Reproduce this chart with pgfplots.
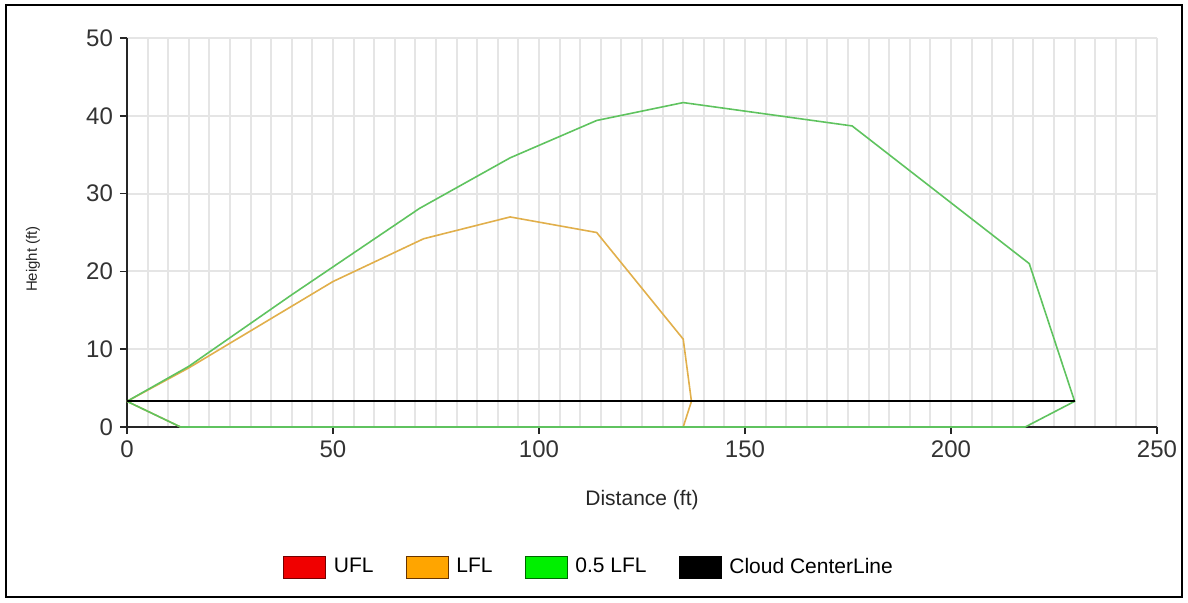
\documentclass[border=0pt]{standalone}
\usepackage{pgfplots}
\pgfplotsset{compat=1.18}
\usepackage{fontspec}
\setmainfont{Liberation Sans}
\definecolor{gridc}{RGB}{229,229,229}
\definecolor{halfg}{RGB}{95,195,95}
\definecolor{lflc}{RGB}{225,175,75}
\definecolor{legred}{RGB}{240,0,0}
\definecolor{legorange}{RGB}{255,165,0}
\definecolor{leggreen}{RGB}{0,240,0}
\begin{document}
\begin{tikzpicture}
\path (0,0) rectangle (594pt,301pt);
\draw[line width=1.1pt] (3pt,2.5pt) rectangle (591pt,298.5pt);
\begin{axis}[
  at={(63.5pt,87.5pt)}, anchor=south west,
  scale only axis, width=515pt, height=194.5pt,
  xmin=0, xmax=250, ymin=0, ymax=50,
  axis x line*=bottom, axis y line*=left,
  axis line style={line width=1pt,-, black!85},
  xtick={0,50,...,250}, ytick={0,10,...,50},
  minor xtick={5,10,15,20,25,30,35,40,45,55,60,65,70,75,80,85,90,95,105,110,115,120,125,130,135,140,145,155,160,165,170,175,180,185,190,195,205,210,215,220,225,230,235,240,245},
  xmajorgrids, xminorgrids, ymajorgrids,
  major grid style={gridc, line width=1pt},
  minor grid style={gridc, line width=1pt},
  minor tick length=0pt,
  tick align=outside, major tick length=3.5pt,
  tick style={black!85, line width=0.8pt},
  ticklabel style={font=\fontsize{12}{12}\selectfont, text=black!80},
  /pgf/number format/assume math mode=true,
  legend columns=4,
  legend image code/.code={\draw[#1] (0pt,-5.5pt) rectangle (21pt,5.5pt);},
  legend style={at={(0.4495,-0.36)}, anchor=center, draw=none, fill=none,
    font=\fontsize{10.5}{12}\selectfont,
    /tikz/every odd column/.append style={column sep=2pt},
    /tikz/every even column/.append style={column sep=14pt}},
  clip=false,
]
\addplot[lflc, line width=0.8pt, forget plot] coordinates {(0,3.3)(15,7.6)(50,18.7)(72,24.2)(93,27.0)(114,25.0)(135,11.3)(137,3.3)(135,0)(13,0)(0,3.3)};
\addplot[halfg, line width=0.8pt, forget plot] coordinates {(0,3.3)(15,7.8)(40,17.0)(71,28.1)(93,34.6)(114,39.4)(135,41.7)(176,38.7)(219,21.0)(230,3.3)(218,0)(13,0)(0,3.3)};
\addplot[black, line width=1pt, forget plot] coordinates {(0,3.3)(230,3.3)};
\addlegendimage{fill=legred, draw=red!45!black}
\addlegendentry{UFL}
\addlegendimage{fill=legorange, draw=orange!40!black}
\addlegendentry{LFL}
\addlegendimage{fill=leggreen, draw=green!40!black}
\addlegendentry{0.5 LFL}
\addlegendimage{fill=black, draw=black}
\addlegendentry{Cloud CenterLine}
\end{axis}
\node[rotate=90, font=\fontsize{7.5}{9}\selectfont, text=black!85] at (16.5pt,171.5pt) {Height (ft)};
\node[font=\fontsize{10.5}{12}\selectfont, text=black!85] at (321pt,51pt) {Distance (ft)};
\end{tikzpicture}
\end{document}
